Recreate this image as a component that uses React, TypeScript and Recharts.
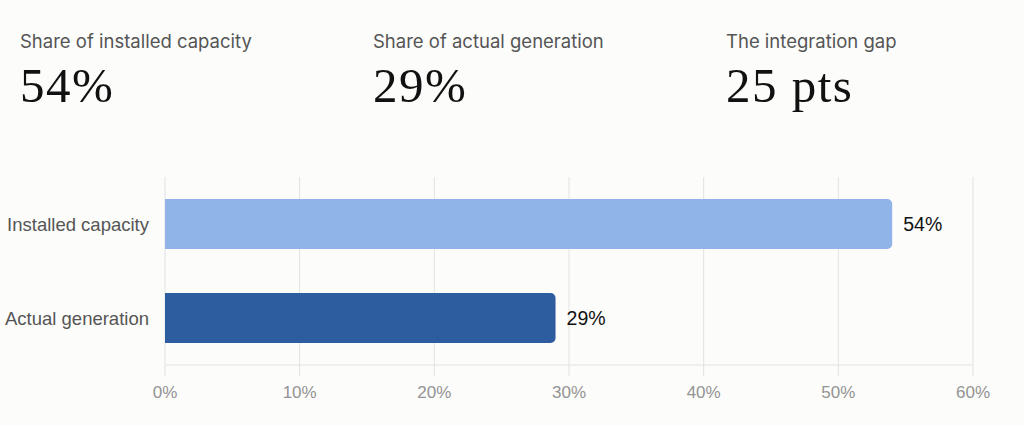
import React from "react";
import { BarChart, Bar, XAxis, YAxis, CartesianGrid, Cell, LabelList } from "recharts";

// ── Data ──────────────────────────────────────────────────────────────────────

const categories = ["Installed capacity", "Actual generation"];
const shares = [54, 29];
const barColors = ["#90b4e8", "#2e5d9f"];
const xTicks = [0, 10, 20, 30, 40, 50, 60];

const statLabels = ["Share of installed capacity", "Share of actual generation", "The integration gap"];
const statValues = ["54%", "29%", "25 pts"];

const data = categories.map((name, i) => ({ name, share: shares[i] }));

const BG = "#fcfcfb";
const GRID = "#e2e2e2";

// ── Component ─────────────────────────────────────────────────────────────────

export default function App() {
  return (
    <div style={{ position: "relative", width: 1024, height: 425, background: BG, overflow: "hidden" }}>
      <style>{`body{margin:0;background:${BG}}`}</style>

      <svg width={1024} height={160} style={{ position: "absolute", left: 0, top: 0 }}>
        {statLabels.map((label, i) => (
          <g key={label}>
            <text x={20 + i * 353} y={48} fontFamily="Inter" fontSize={18.5} fill="#555555">
              {label}
            </text>
            <text
              x={20 + i * 353}
              y={102}
              fontFamily="Liberation Serif"
              fontSize={49}
              letterSpacing={1.5}
              fill="#111111"
            >
              {statValues[i]}
            </text>
          </g>
        ))}
      </svg>

      <div style={{ position: "absolute", left: 0, top: 160 }}>
        <BarChart
          width={1024}
          height={265}
          data={data}
          layout="vertical"
          margin={{ top: 17, right: 51, left: 0, bottom: 20 }}
          barSize={50}
        >
          <CartesianGrid horizontal={false} stroke={GRID} />
          <XAxis
            type="number"
            domain={[0, 60]}
            ticks={xTicks}
            tickFormatter={(v: number) => `${v}%`}
            tick={{ fontSize: 17, fill: "#939393", fontFamily: "Liberation Sans" }}
            axisLine={{ stroke: GRID }}
            tickLine={{ stroke: GRID }}
            tickSize={11}
            tickMargin={10}
            height={40}
          />
          <YAxis
            type="category"
            dataKey="name"
            width={165}
            tick={{ fontSize: 18.5, fill: "#555555", fontFamily: "Liberation Sans" }}
            axisLine={false}
            tickLine={false}
            tickSize={0}
            tickMargin={16}
          />
          <Bar dataKey="share" radius={[0, 5, 5, 0]} isAnimationActive={false}>
            {data.map((d, i) => (
              <Cell key={d.name} fill={barColors[i]} />
            ))}
            <LabelList
              dataKey="share"
              position="right"
              offset={11}
              formatter={(v: number) => `${v}%`}
              style={{ fontSize: 19.5, fill: "#111111", fontFamily: "Liberation Sans" }}
            />
          </Bar>
        </BarChart>
      </div>
    </div>
  );
}
